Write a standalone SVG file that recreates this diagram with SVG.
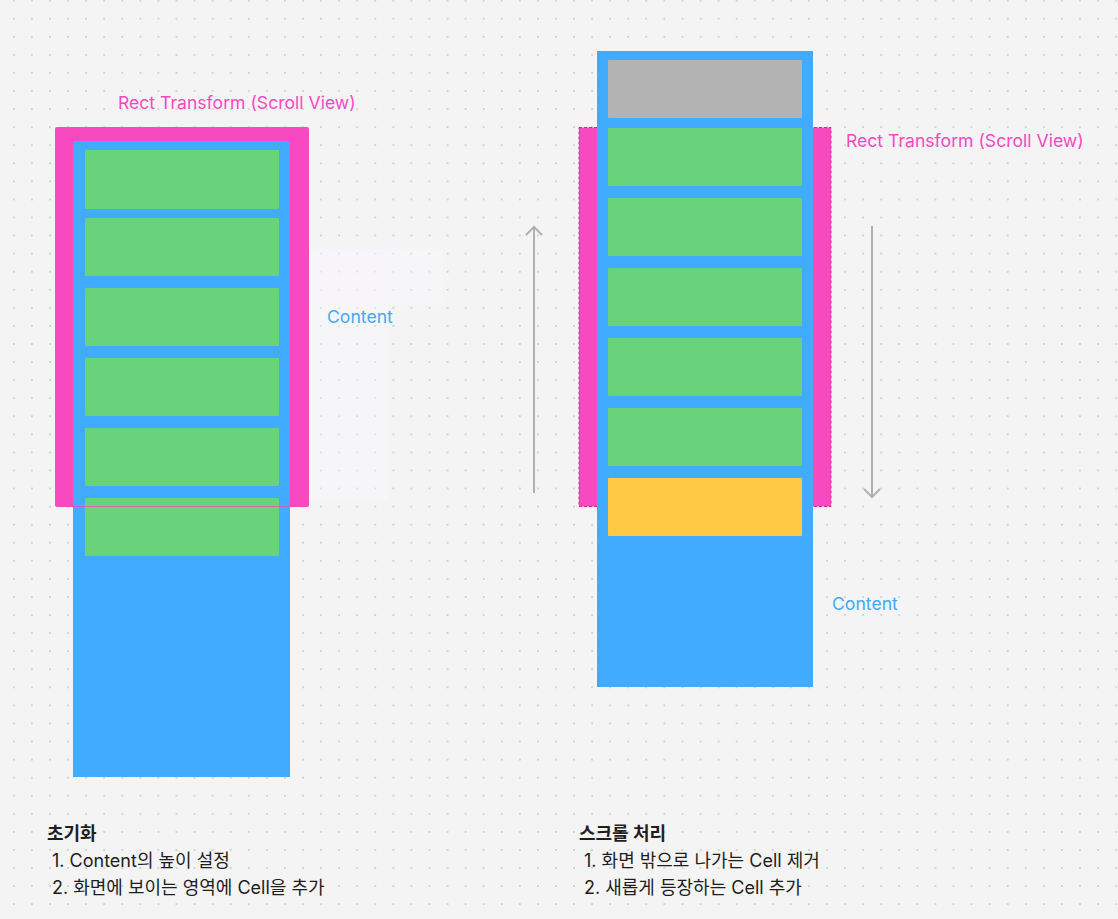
<svg xmlns="http://www.w3.org/2000/svg" width="1118" height="919" viewBox="0 0 1118 919">
<defs>
<pattern id="dots" x="13.86" y="0.65" width="18.07" height="18.07" patternUnits="userSpaceOnUse">
<circle cx="0" cy="0" r="0.9" fill="#c4c4c4"/>
<circle cx="18.07" cy="0" r="0.9" fill="#c4c4c4"/>
<circle cx="0" cy="18.07" r="0.9" fill="#c4c4c4"/>
<circle cx="18.07" cy="18.07" r="0.9" fill="#c4c4c4"/>
</pattern>
<marker id="chev" viewBox="0 0 20 20" refX="10" refY="10" markerWidth="20" markerHeight="20" markerUnits="userSpaceOnUse" orient="auto">
<path d="M2 2 L10 10 L2 18" fill="none" stroke="#b0b0b0" stroke-width="2"/>
</marker>
<style>
.pink{fill:#f849c1}
.blue{fill:#40abff}
.green{fill:#68d37a}
.yellow{fill:#ffc845}
.gray{fill:#b3b3b3}
.lbl{font-family:Inter,"Noto Sans CJK KR",sans-serif;font-size:17.6px}
.pl{fill:#f849c1}
.bl{fill:#40abff}
.txt{font-family:Inter,"Noto Sans CJK KR",sans-serif;font-size:18px;fill:#1e1e1e}
.bold{font-weight:700}
.arrow{stroke:#b0b0b0;stroke-width:2;fill:none}
</style>
</defs>
<rect width="1118" height="919" fill="#f4f4f5"/>
<rect width="1118" height="919" fill="url(#dots)"/>
<rect x="309" y="249" width="134" height="56" fill="#faf6fb" opacity="0.35"/>
<rect x="309" y="249" width="79" height="251" fill="#faf6fb" opacity="0.35"/>

<g id="left-scrollview">
<rect x="55" y="127" width="254" height="380" rx="2" class="pink"/>
</g>
<g id="left-content">
<rect x="73" y="141" width="217" height="636" class="blue"/>
<rect x="85" y="150" width="194" height="59" rx="1" class="green"/>
<rect x="85" y="218" width="194" height="58" rx="1" class="green"/>
<rect x="85" y="288" width="194" height="58" rx="1" class="green"/>
<rect x="85" y="358" width="194" height="58" rx="1" class="green"/>
<rect x="85" y="428" width="194" height="58" rx="1" class="green"/>
<rect x="85" y="498" width="194" height="58" rx="1" class="green"/>
<line x1="73" y1="506.5" x2="290" y2="506.5" stroke="#f849c1" stroke-width="1.2" opacity="0.75"/>
</g>
<g id="left-labels">
<text x="118" y="109" class="lbl pl">Rect Transform (Scroll View)</text>
<text x="327" y="323" class="lbl bl">Content</text>
</g>

<g id="right-scrollview">
<rect x="579" y="127.5" width="252" height="379" class="pink" stroke="#d9278f" stroke-width="1" stroke-dasharray="3 2"/>
</g>
<g id="right-content">
<rect x="597" y="51" width="216" height="636" class="blue"/>
<rect x="608" y="60" width="194" height="58" rx="1" class="gray"/>
<rect x="608" y="128" width="194" height="58" rx="1" class="green"/>
<rect x="608" y="198" width="194" height="58" rx="1" class="green"/>
<rect x="608" y="268" width="194" height="58" rx="1" class="green"/>
<rect x="608" y="338" width="194" height="58" rx="1" class="green"/>
<rect x="608" y="408" width="194" height="58" rx="1" class="green"/>
<rect x="608" y="478" width="194" height="58" rx="1" class="yellow"/>
</g>
<g id="right-labels">
<text x="846" y="147" class="lbl pl">Rect Transform (Scroll View)</text>
<text x="832" y="610" class="lbl bl">Content</text>
</g>

<g id="connectors">
<line x1="534" y1="493" x2="534" y2="227" class="arrow" marker-end="url(#chev)"/>
<line x1="872" y1="226" x2="872" y2="497" class="arrow" marker-end="url(#chev)"/>
</g>

<g id="notes-left">
<text x="47" y="840" class="txt bold">초기화</text>
<text x="52" y="867" class="txt">1. Content의 높이 설정</text>
<text x="52" y="894" class="txt">2. 화면에 보이는 영역에 Cell을 추가</text>
</g>
<g id="notes-right">
<text x="579" y="840" class="txt bold">스크롤 처리</text>
<text x="584" y="867" class="txt">1. 화면 밖으로 나가는 Cell 제거</text>
<text x="584" y="894" class="txt">2. 새롭게 등장하는 Cell 추가</text>
</g>
</svg>
